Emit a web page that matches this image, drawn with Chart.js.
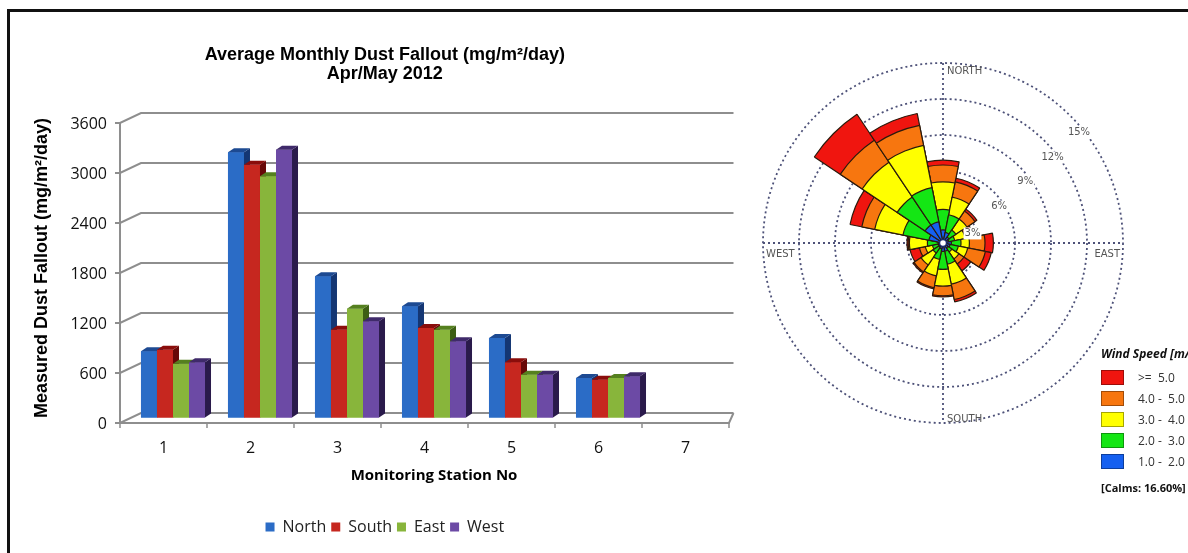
<!DOCTYPE html>
<html>
<head>
<meta charset="utf-8">
<title>Dust Fallout and Wind Rose</title>
<script src="https://cdn.jsdelivr.net/npm/chart.js@4.4.0/dist/chart.umd.min.js"></script>
<style>
    body {
        margin: 0;
        background: #fff;
        width: 1188px;
        height: 553px;
        overflow: hidden;
        position: relative;
        font-family: 'Open Sans', sans-serif;
    }
    #frame {
        position: absolute;
        left: 7px;
        top: 9px;
        width: 1200px;
        height: 560px;
        border-top: 3px solid #111;
        border-left: 3px solid #111;
    }
    #dustChart { position: absolute; left: 0; top: 0; }
    #windRose { position: absolute; left: 743px; top: 43px; }
    #windLegend { position: absolute; left: 1101px; top: 346px; width: 200px; height: 160px; }
    #windLegend div { position: absolute; white-space: pre; }
    .wl-title { top: 0; left: 0; font: italic bold 12px 'Open Sans', sans-serif; line-height: 16px; color: #111; }
    .wl-box { left: 0; width: 21px; height: 13px; border: 1px solid rgba(0, 0, 0, 0.35); }
    .wl-text { left: 37px; font-size: 12px; line-height: 15px; color: #333; }
    .wl-calms { left: 0; top: 134px; font: bold 11px 'Open Sans', sans-serif; line-height: 16px; color: #111; }
</style>
</head>
<body>
<div id="frame"></div>
<canvas id="dustChart" width="770" height="553"></canvas>
<canvas id="windRose" width="400" height="400"></canvas>
<div id="windLegend"></div>

<script>
    // ---------------------------------------------------------------- data

    // dust fallout per monitoring station (mg/m2/day), one array per gauge side
    var stations = ['1', '2', '3', '4', '5', '6', '7'];
    var northDust = [800, 3190, 1700, 1340, 960, 480, null];
    var southDust = [820, 3040, 1060, 1080, 670, 460, null];
    var eastDust = [650, 2900, 1310, 1060, 520, 480, null];
    var westDust = [670, 3220, 1160, 920, 520, 500, null];
    var dustTicks = [0, 600, 1200, 1800, 2400, 3000, 3600];

    // wind rose: frequency (%) per direction for each speed band
    var directions = ['N', 'NNE', 'NE', 'ENE', 'E', 'ESE', 'SE', 'SSE', 'S', 'SSW', 'SW', 'WSW', 'W', 'WNW', 'NW', 'NNW'];
    var speed1to2 = [1.1, 0.9, 0.6, 0.5, 0.7, 0.6, 0.5, 0.7, 0.7, 0.5, 0.4, 0.4, 0.4, 1.2, 1.8, 1.8];
    var speed2to3 = [1.7, 1.5, 0.7, 0.5, 0.8, 0.7, 0.4, 1.1, 1.5, 0.9, 0.6, 0.5, 0.9, 2.2, 2.8, 2.9];
    var speed3to4 = [2.3, 1.5, 1.1, 0.9, 0.7, 0.8, 0.7, 1.7, 1.4, 1.4, 1.2, 0.6, 1.5, 2.4, 3.5, 3.6];
    var speed4to5 = [1.4, 1.3, 0.8, 0.5, 1.3, 1.5, 0.5, 1.3, 0.8, 1.0, 0.7, 0.5, 0.1, 1.1, 2.2, 1.7];
    var speed5up = [0.4, 0.3, 0.2, 0.2, 0.7, 0.5, 0.7, 0.2, 0.1, 0.1, 0.1, 0.8, 0.1, 1.0, 2.6, 1.0];
    var ringTicks = [3, 6, 9, 12, 15];
    var calmsPct = 16.60;
    var speedBands = ['>=  5.0', '4.0 -  5.0', '3.0 -  4.0', '2.0 -  3.0', '1.0 -  2.0'];

    Chart.defaults.font.family = "'Open Sans', sans-serif";
    Chart.defaults.color = '#111';

    // ---------------------------------------------------------------- 3D column chart

    var barDepth = { dx: 6, dy: 4 };   // top/side faces of each column
    var wallDepth = 9.5;               // columns sit halfway between front edge and back wall

    // back wall gridlines, value axis and floor, drawn behind the columns
    var chartWalls = {
        id: 'chartWalls',
        beforeDatasetsDraw: function (chart) {
            var ctx = chart.ctx;
            var xs = chart.scales.x;
            var ys = chart.scales.y;
            var frontL = xs.left - wallDepth;
            var backL = xs.left + wallDepth + 2;
            var backR = xs.right - 5;
            var frontR = xs.right - wallDepth;
            var y0 = ys.getPixelForValue(0);
            var yTop = ys.getPixelForValue(dustTicks[dustTicks.length - 1]);

            ctx.save();
            ctx.strokeStyle = '#8e8e8e';
            ctx.lineWidth = 2;
            ys.ticks.forEach(function (t) {
                var py = ys.getPixelForValue(t.value);
                ctx.beginPath();
                ctx.moveTo(frontL - 5, py + 5);
                ctx.lineTo(frontL, py + 5);
                ctx.lineTo(backL, py - 5);
                ctx.lineTo(backR, py - 5);
                ctx.stroke();
            });

            // value axis line
            ctx.beginPath();
            ctx.moveTo(frontL, yTop + 5);
            ctx.lineTo(frontL, y0 + 5);
            // floor front edge and right side
            ctx.lineTo(frontR, y0 + 5);
            ctx.lineTo(backR, y0 - 5);
            ctx.stroke();

            // tick marks between stations
            var catW = (xs.right - xs.left) / stations.length;
            ctx.lineWidth = 1.5;
            for (var i = 0; i <= stations.length; i++) {
                var bx = xs.left + i * catW - wallDepth;
                ctx.beginPath();
                ctx.moveTo(bx, y0 + 5);
                ctx.lineTo(bx, y0 + 10);
                ctx.stroke();
            }
            ctx.restore();
        }
    };

    // redraw the columns left to right, each with its top and right side face,
    // so the next column's front covers the side of the one before it
    var columnFaces = {
        id: 'columnFaces',
        afterDatasetsDraw: function (chart) {
            var ctx = chart.ctx;
            var dx = barDepth.dx, dy = barDepth.dy;
            var area = chart.chartArea;
            ctx.save();
            stations.forEach(function (st, i) {
                chart.data.datasets.forEach(function (ds, d) {
                    if (ds.data[i] === null) return;
                    var bar = chart.getDatasetMeta(d).data[i];
                    var p = bar.getProps(['x', 'y', 'base', 'width'], true);
                    var l = p.x - p.width / 2;
                    var r = p.x + p.width / 2;

                    bar.draw(ctx, area);

                    ctx.fillStyle = ds.sideColor;
                    ctx.beginPath();
                    ctx.moveTo(r, p.y);
                    ctx.lineTo(r + dx, p.y - dy);
                    ctx.lineTo(r + dx, p.base - dy);
                    ctx.lineTo(r, p.base);
                    ctx.closePath();
                    ctx.fill();

                    ctx.fillStyle = ds.topColor;
                    ctx.beginPath();
                    ctx.moveTo(l, p.y);
                    ctx.lineTo(r, p.y);
                    ctx.lineTo(r + dx, p.y - dy);
                    ctx.lineTo(l + dx, p.y - dy);
                    ctx.closePath();
                    ctx.fill();
                });
            });
            ctx.restore();
        }
    };

    function dustSeries(label, data, front, top, side) {
        return {
            label: label,
            data: data,
            backgroundColor: front,
            topColor: top,
            sideColor: side,
            borderWidth: 0,
            categoryPercentage: 0.736,
            barPercentage: 1.0
        };
    }

    new Chart(document.getElementById('dustChart').getContext('2d'), {
        type: 'bar',
        data: {
            labels: stations,
            datasets: [
                dustSeries('North', northDust, '#2b6cc6', '#1d4a92', '#143673'),
                dustSeries('South', southDust, '#c6271f', '#8a0d0b', '#680808'),
                dustSeries('East', eastDust, '#88b53b', '#55801f', '#3d5e14'),
                dustSeries('West', westDust, '#6c4aa5', '#3f2a6a', '#2a1a4b')
            ]
        },
        options: {
            responsive: false,
            animation: false,
            events: [],
            layout: { padding: { left: 31.2, right: 31.5, top: 0, bottom: 8 } },
            plugins: {
                title: {
                    display: true,
                    text: ['Average Monthly Dust Fallout (mg/m²/day)', 'Apr/May 2012'],
                    font: { family: 'Liberation Sans', size: 18, weight: 'bold', lineHeight: 19 / 18 },
                    color: '#000',
                    padding: { top: 45.5, bottom: 34.5 }
                },
                legend: {
                    position: 'bottom',
                    labels: {
                        boxWidth: 9,
                        boxHeight: 9,
                        padding: 5,
                        font: { size: 16 },
                        color: '#222'
                    }
                },
                tooltip: { enabled: false }
            },
            scales: {
                x: {
                    offset: true,
                    grid: { color: 'transparent', tickLength: 20.4 },
                    border: { display: false },
                    ticks: { padding: 0, labelOffset: -wallDepth, maxRotation: 0, autoSkip: false, font: { size: 16 }, color: '#111' },
                    title: {
                        display: true,
                        text: 'Monitoring Station No',
                        font: { size: 15, weight: 'bold' },
                        color: '#000',
                        padding: { top: 9.4, bottom: 29 }
                    }
                },
                y: {
                    min: 0,
                    max: 3600,
                    afterBuildTicks: function (scale) {
                        scale.ticks = dustTicks.map(function (v) { return { value: v }; });
                    },
                    grid: { color: 'transparent', tickLength: 18.5 },
                    border: { display: false },
                    ticks: {
                        padding: 4,
                        labelOffset: 6,
                        font: { size: 16 },
                        color: '#111',
                        callback: function (v) { return String(v); }
                    },
                    title: {
                        display: true,
                        text: 'Measured Dust Fallout (mg/m²/day)',
                        font: { family: 'Liberation Sans', size: 18, weight: 'bold' },
                        color: '#000',
                        padding: { top: 0, bottom: 13.6 }
                    }
                }
            }
        },
        plugins: [chartWalls, columnFaces]
    });

    // ---------------------------------------------------------------- wind rose

    var bandColors = ['#1560f0', '#14e614', '#ffff00', '#f7760f', '#f0150f'];   // slow -> fast
    var roseGrid = '#4d5178';

    // stack the speed bands outward from the centre
    var bandValues = [speed1to2, speed2to3, speed3to4, speed4to5, speed5up];
    var running = directions.map(function () { return 0; });
    var roseSets = bandValues.map(function (band, b) {
        running = running.map(function (v, i) { return +(v + band[i]).toFixed(2); });
        return {
            data: running.slice(),
            backgroundColor: bandColors[b],
            borderColor: '#2b1a0c',
            borderWidth: 1.2
        };
    });

    var ringLabelAngle = { 3: 72, 6: 57, 9: 53, 12: 52, 15: 51 };

    var roseOverlay = {
        id: 'roseOverlay',
        beforeDatasetsDraw: function (chart) {
            var s = chart.scales.r;
            var ctx = chart.ctx;
            var R = s.getDistanceFromCenterForValue(s.max);
            ctx.save();
            ctx.strokeStyle = roseGrid;
            ctx.lineWidth = 1.8;
            ctx.setLineDash([2, 3]);
            ctx.beginPath();
            ctx.moveTo(s.xCenter, s.yCenter - R);
            ctx.lineTo(s.xCenter, s.yCenter + R);
            ctx.moveTo(s.xCenter - R, s.yCenter);
            ctx.lineTo(s.xCenter + R, s.yCenter);
            ctx.stroke();
            ctx.restore();
        },
        afterDatasetsDraw: function (chart) {
            var s = chart.scales.r;
            var ctx = chart.ctx;
            var cx = s.xCenter, cy = s.yCenter;
            var R = s.getDistanceFromCenterForValue(s.max);
            ctx.save();
            ctx.font = '10px "DejaVu Sans"';
            ctx.fillStyle = '#555';
            ctx.textBaseline = 'middle';

            // compass words just inside the outer ring
            ctx.textAlign = 'left';
            ctx.fillText('NORTH', cx + 4, cy - R + 8);
            ctx.fillText('SOUTH', cx + 4, cy + R - 4);
            ctx.fillText('WEST', cx - R + 3, cy + 11);
            ctx.textAlign = 'right';
            ctx.fillText('EAST', cx + R - 3, cy + 11);

            // ring percentages on a white backdrop
            ctx.textAlign = 'center';
            ringTicks.forEach(function (v) {
                var a = ringLabelAngle[v] * Math.PI / 180;
                var d = s.getDistanceFromCenterForValue(v) - 5;
                var x = cx + d * Math.sin(a);
                var y = cy - d * Math.cos(a);
                var text = v + '%';
                var w = ctx.measureText(text).width;
                ctx.fillStyle = '#fff';
                ctx.fillRect(x - w / 2 - 1, y - 6, w + 2, 12);
                ctx.fillStyle = '#555';
                ctx.fillText(text, x, y);
            });

            // calm centre
            ctx.beginPath();
            ctx.arc(cx, cy, 3.5, 0, Math.PI * 2);
            ctx.fillStyle = '#fff';
            ctx.fill();
            ctx.lineWidth = 1.5;
            ctx.strokeStyle = '#1a2a70';
            ctx.stroke();
            ctx.restore();
        }
    };

    new Chart(document.getElementById('windRose').getContext('2d'), {
        type: 'polarArea',
        data: { labels: directions, datasets: roseSets },
        options: {
            responsive: false,
            animation: false,
            events: [],
            layout: { padding: 20 },
            plugins: { legend: { display: false }, tooltip: { enabled: false } },
            scales: {
                r: {
                    min: 0,
                    max: 15,
                    startAngle: -11.25,
                    afterBuildTicks: function (scale) {
                        scale.ticks = [0].concat(ringTicks).map(function (v) { return { value: v }; });
                    },
                    ticks: { display: false },
                    grid: { circular: true, color: roseGrid, lineWidth: 1.8 },
                    border: { dash: [2, 3] },
                    angleLines: { display: false },
                    pointLabels: { display: false }
                }
            }
        },
        plugins: [roseOverlay]
    });

    // wind speed key, fastest band first
    var keyHtml = '<div class="wl-title">Wind Speed [m/s]</div>';
    speedBands.forEach(function (band, i) {
        var top = 24 + i * 21;
        var color = bandColors[bandColors.length - 1 - i];
        keyHtml += '<div class="wl-box" style="top:' + top + 'px;background:' + color + '"></div>';
        keyHtml += '<div class="wl-text" style="top:' + top + 'px">' + band.replace('>', '&gt;') + '</div>';
    });
    keyHtml += '<div class="wl-calms">[Calms: ' + calmsPct.toFixed(2) + '%]</div>';
    document.getElementById('windLegend').innerHTML = keyHtml;
</script>
</body>
</html>
